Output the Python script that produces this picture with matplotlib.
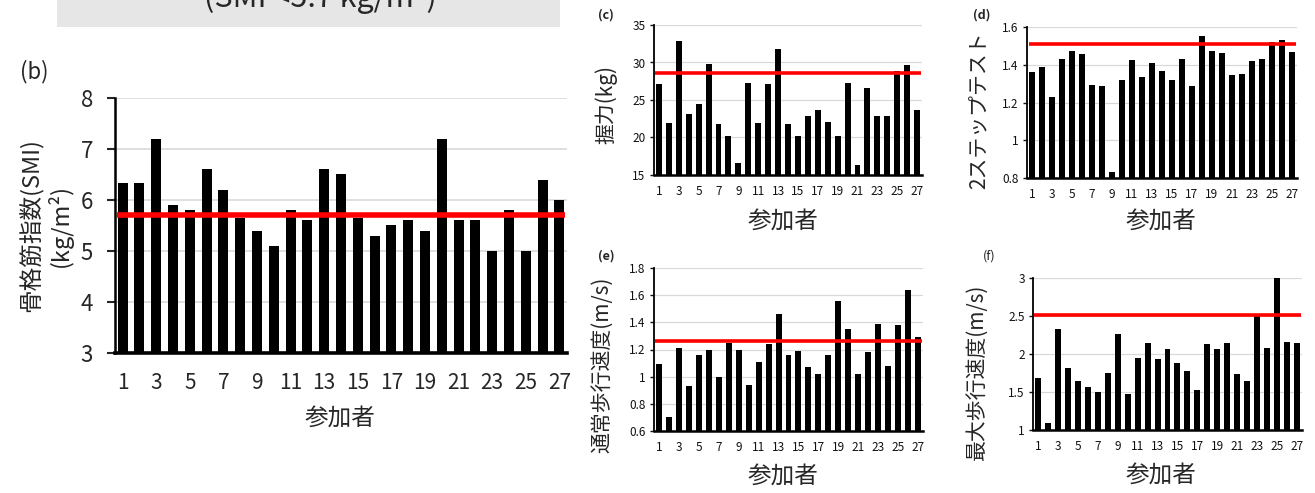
import numpy as np
import matplotlib
matplotlib.use("Agg")
from matplotlib import pyplot as plt
from matplotlib.patches import Rectangle

plt.rcParams['font.family'] = ['Noto Sans CJK JP', 'DejaVu Sans']

# 参加者 1..27
participants = list(range(1, 28))
tick_labels = [str(i) for i in range(1, 28, 2)]

# (b) 骨格筋指数
smi = [6.33, 6.33, 7.2, 5.9, 5.8, 6.6, 6.2, 5.65, 5.4, 5.1, 5.8, 5.6, 6.6, 6.5,
       5.65, 5.3, 5.5, 5.6, 5.4, 7.2, 5.6, 5.6, 5.0, 5.8, 5.0, 6.4, 6.0]
smi_cut = 5.7

# (c) 握力
grip = [27.1, 21.9, 32.9, 23.1, 24.5, 29.8, 21.8, 20.2, 16.6, 27.2, 21.9, 27.1, 31.8, 21.8,
        20.2, 22.8, 23.6, 22.1, 20.2, 27.3, 16.3, 26.6, 22.8, 22.8, 28.9, 29.6, 23.6]
grip_cut = 28.6

# (d) 2ステップテスト
two_step = [1.36, 1.39, 1.23, 1.43, 1.475, 1.455, 1.295, 1.285, 0.83, 1.32, 1.425, 1.335, 1.41, 1.365,
            1.32, 1.43, 1.285, 1.55, 1.475, 1.46, 1.345, 1.35, 1.42, 1.43, 1.52, 1.53, 1.47]
two_step_cut = 1.51

# (e) 通常歩行速度
walk = [1.09, 0.70, 1.21, 0.93, 1.16, 1.20, 1.00, 1.25, 1.20, 0.94, 1.11, 1.24, 1.46, 1.16,
        1.19, 1.07, 1.02, 1.16, 1.56, 1.35, 1.02, 1.18, 1.39, 1.08, 1.38, 1.64, 1.29]
walk_cut = 1.265

# (f) 最大歩行速度
walk_max = [1.69, 1.09, 2.33, 1.82, 1.65, 1.56, 1.50, 1.75, 2.26, 1.48, 1.95, 2.14, 1.93, 2.06,
            1.88, 1.77, 1.52, 2.13, 2.07, 2.14, 1.74, 1.64, 2.51, 2.08, 3.0, 2.16, 2.15]
walk_max_cut = 2.51

W, H = 1315, 493
fig = plt.figure(figsize=(W / 100, H / 100), dpi=100)
txt = '#262626'


def add_ax(l, t, r, b):
    return fig.add_axes([l / W, 1 - b / H, (r - l) / W, (b - t) / H])


def draw(ax, vals, cut, ylim, yticks, big=False):
    ax.set_axisbelow(True)
    ax.bar(participants, vals, width=0.6, color='black', zorder=2)
    ax.hlines(cut, participants[0] - 0.35, participants[-1] + 0.35, color='#ff0000',
              linewidth=4 if big else 2.6, zorder=3)
    ax.set_xlim(0.55 if big else 0.5, 27.45 if big else 27.5)
    ax.set_ylim(*ylim)
    ax.set_yticks(yticks)
    ax.set_yticklabels([f'{v:g}' for v in yticks])
    ax.set_xticks(participants[::2])
    ax.set_xticklabels(tick_labels)
    ax.grid(axis='y', color='#d9d9d9', linewidth=1.2 if big else 0.9)
    for s in ['top', 'right']:
        ax.spines[s].set_visible(False)
    ax.spines['left'].set_color('black')
    ax.spines['bottom'].set_color('black')
    if big:
        ax.spines['left'].set_linewidth(1.8)
        ax.spines['bottom'].set_linewidth(2.6)
        ax.tick_params(axis='y', length=6, width=1.5, pad=10, labelsize=16, colors=txt)
        ax.tick_params(axis='x', length=0, pad=14, labelsize=15, colors=txt)
    else:
        ax.spines['left'].set_linewidth(1.3)
        ax.spines['bottom'].set_linewidth(1.8)
        ax.tick_params(axis='y', length=3, width=1, pad=3, labelsize=8.5, colors='#111111')
        ax.tick_params(axis='x', length=0, pad=7, labelsize=8.5, colors='#111111')


# 上部の灰色の見出し (上端で切れている)
fig.patches.append(Rectangle((57 / W, 1 - 27 / H), (560 - 57) / W, 27 / H,
                             transform=fig.transFigure, facecolor='#e6e6e6', edgecolor='none'))
fig.text(320 / W, 1 - 7 / H, '(SMI <5.7 kg/m²)', ha='center', va='baseline', fontsize=22, color=txt)

ax_b = add_ax(115, 98, 567, 353)
draw(ax_b, smi, smi_cut, (3, 8), [3, 4, 5, 6, 7, 8], big=True)
ax_c = add_ax(654, 25, 922, 175)
draw(ax_c, grip, grip_cut, (15, 35), [15, 20, 25, 30, 35])
ax_d = add_ax(1027, 27, 1297, 178)
draw(ax_d, two_step, two_step_cut, (0.8, 1.6), [0.8, 1.0, 1.2, 1.4, 1.6])
ax_e = add_ax(654, 268, 923, 431)
draw(ax_e, walk, walk_cut, (0.6, 1.8), [0.6, 0.8, 1.0, 1.2, 1.4, 1.6, 1.8])
ax_f = add_ax(1033, 278, 1302, 430)
draw(ax_f, walk_max, walk_max_cut, (1, 3), [1, 1.5, 2, 2.5, 3])

# パネル記号
fig.text(20 / W, 1 - 72 / H, '(b)', ha='left', va='center', fontsize=16, color=txt)
fig.text(598 / W, 1 - 15 / H, '(c)', ha='left', va='center', fontsize=9, color=txt, fontweight='bold')
fig.text(973 / W, 1 - 15 / H, '(d)', ha='left', va='center', fontsize=9, color=txt, fontweight='bold')
fig.text(598 / W, 1 - 256 / H, '(e)', ha='left', va='center', fontsize=9, color=txt, fontweight='bold')
fig.text(983 / W, 1 - 256 / H, '(f)', ha='left', va='center', fontsize=9, color=txt)

# 縦軸ラベル
fig.text(46 / W, 1 - 225 / H, '骨格筋指数(SMI)\n(kg/m²)', rotation=90, ha='center', va='center',
         fontsize=17, color=txt, multialignment='center', linespacing=1.15)
fig.text(606 / W, 1 - 104 / H, '握力(kg)', rotation=90, ha='center', va='center', fontsize=15, color=txt)
fig.text(979 / W, 1 - 110 / H, '2ステップテスト', rotation=90, ha='center', va='center', fontsize=15, color=txt)
fig.text(602 / W, 1 - 365 / H, '通常歩行速度(m/s)', rotation=90, ha='center', va='center', fontsize=15, color=txt)
fig.text(977 / W, 1 - 372 / H, '最大歩行速度(m/s)', rotation=90, ha='center', va='center', fontsize=15, color=txt)

# 横軸ラベル
fig.text(340 / W, 1 - 418 / H, '参加者', ha='center', va='center', fontsize=17, color=txt)
fig.text(783 / W, 1 - 221 / H, '参加者', ha='center', va='center', fontsize=17, color=txt)
fig.text(1161 / W, 1 - 221 / H, '参加者', ha='center', va='center', fontsize=17, color=txt)
fig.text(783 / W, 1 - 476 / H, '参加者', ha='center', va='center', fontsize=17, color=txt)
fig.text(1161 / W, 1 - 475 / H, '参加者', ha='center', va='center', fontsize=17, color=txt)

fig.savefig('out.png', dpi=100)
